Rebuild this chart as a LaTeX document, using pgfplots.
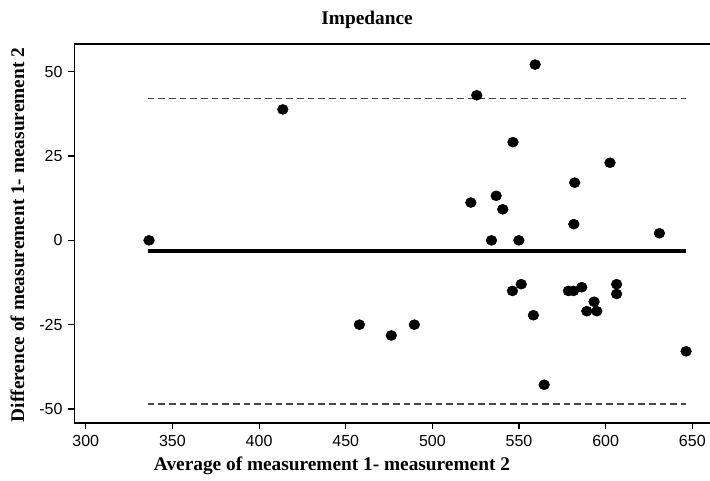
\documentclass[border=0pt]{standalone}
\usepackage{fontspec}
\setmainfont{Liberation Serif}
\newfontfamily\ticksans{Liberation Sans}
\usepackage{pgfplots}
\pgfplotsset{compat=1.18}
\begin{document}
\begin{tikzpicture}
\begin{axis}[
  at={(0,0)}, anchor=south west,
  scale only axis,
  width=476.625pt, height=284.25pt,
  xmin=293.5, xmax=660.2,
  ymin=-54.15, ymax=58.2,
  axis x line*=bottom, axis y line*=left,
  axis line style={line width=1pt, -},
  xtick={300,350,400,450,500,550,600,650},
  ytick={-50,-25,0,25,50},
  tick align=outside,
  major tick length=4.5pt,
  tick style={line width=0.8pt, black},
  /pgf/number format/assume math mode=true,
  ticklabel style={font=\ticksans\fontsize{12}{14}\selectfont},
  xticklabel style={yshift=-1pt},
  yticklabel style={xshift=-1pt},
  clip=false,
]
\addplot[black, line width=1pt, dash pattern=on 5pt off 3pt, color=black!72] coordinates {(335.8,42.1) (646.4,42.1)};
\addplot[black, line width=1pt, dash pattern=on 5pt off 3pt, color=black!72] coordinates {(335.8,-48.5) (646.4,-48.5)};
\addplot[black, line width=3.4pt] coordinates {(335.8,-3.2) (646.4,-3.2)};
\addplot[only marks, mark=*, mark size=3.75pt, mark options={xscale=1.07, fill=black, draw=black}] coordinates {
(336.5,0) (413.7,38.8) (457.9,-25) (476.3,-28.2) (489.6,-25)
(522.2,11.2) (525.6,43.0) (534.1,0) (536.8,13.2) (540.6,9.2)
(546.5,29.1) (546.2,-15) (549.9,0) (551.3,-13) (558.3,-22.2)
(559.3,52.1) (564.5,-42.8) (578.5,-15) (581.4,-15) (581.6,4.8)
(582.1,17.1) (586.2,-13.9) (589.1,-21) (593.3,-18.2) (594.9,-21)
(602.5,23) (606.3,-13) (606.3,-15.9) (631,2.1) (646.4,-32.9)
};
\draw[line width=1pt] (rel axis cs:0,1) -- (rel axis cs:1,1);
\end{axis}
\node[font=\bfseries\fontsize{14.5}{16}\selectfont] at (219.4pt,302.25pt) {Impedance};
\node[font=\bfseries\fontsize{14.5}{16}\selectfont] at (193.1pt,-32.25pt) {Average of measurement 1- measurement 2};
\node[font=\bfseries\fontsize{14.5}{16}\selectfont, rotate=90] at (-42.75pt,141pt) {Difference of measurement 1- measurement 2};
\pgfresetboundingbox
\path[use as bounding box] (-55.875pt,-42.75pt) rectangle (476.625pt,317.25pt);
\end{tikzpicture}
\end{document}
